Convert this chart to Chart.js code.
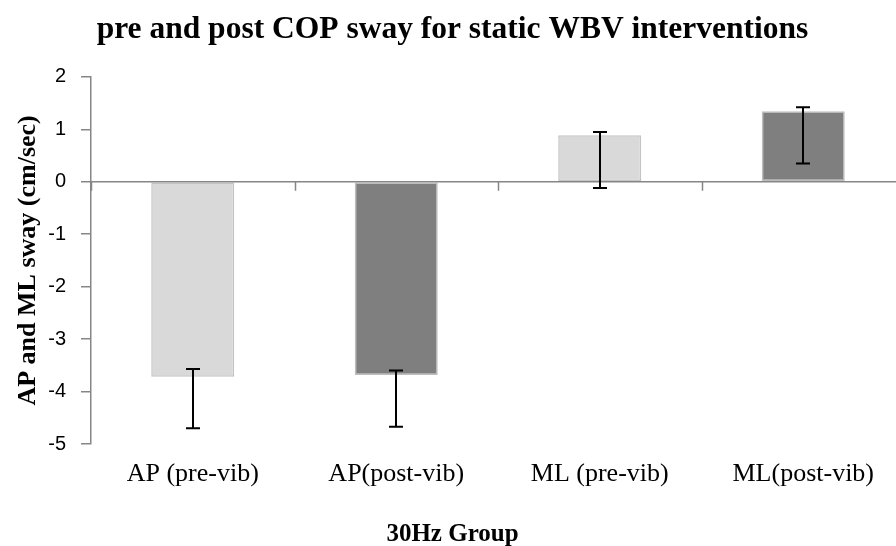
<!DOCTYPE html>
<html>
<head>
<meta charset="utf-8">
<script src="https://cdn.jsdelivr.net/npm/chart.js@4.4.1/dist/chart.umd.min.js"></script>
<style>
  html, body { margin: 0; padding: 0; background: #fff; overflow: hidden; }
  #wrap { width: 905px; height: 546px; }
</style>
</head>
<body>
<div id="wrap"><canvas id="chart" width="905" height="546"></canvas></div>
<script>
'use strict';
// ---------- data ----------
const categories = ['AP (pre-vib)', 'AP(post-vib)', 'ML (pre-vib)', 'ML(post-vib)'];
const swayMeans  = [-3.72, -3.685, 0.885, 1.343];
const errHigh    = [-3.57, -3.60, 0.95, 1.42];
const errLow     = [-4.70, -4.67, -0.12, 0.345];
const yTicks     = [2, 1, 0, -1, -2, -3, -4, -5];

const AXIS_GREY = '#868686';
const SERIF = '"Liberation Serif", "Times New Roman", serif';

// zero line with category tick marks, plus the error bars
const overlayPlugin = {
    id: 'overlay',
    afterDatasetsDraw(chart) {
        const { ctx, chartArea, scales: { x, y } } = chart;
        const y0 = y.getPixelForValue(0);
        ctx.save();
        ctx.strokeStyle = AXIS_GREY;
        ctx.lineWidth = 1.5;
        ctx.beginPath();
        ctx.moveTo(chartArea.left, y0);
        ctx.lineTo(chartArea.right, y0);
        const half = (x.getPixelForValue(1) - x.getPixelForValue(0)) / 2;
        for (let i = 0; i <= categories.length; i++) {
            const px = Math.round(x.getPixelForValue(i) - half) + 0.5;
            ctx.moveTo(px, y0);
            ctx.lineTo(px, y0 + 9);
        }
        ctx.stroke();

        const meta = chart.getDatasetMeta(0);
        ctx.strokeStyle = '#000';
        ctx.lineWidth = 2;
        meta.data.forEach((bar, i) => {
            const cx = Math.round(bar.x);
            const top = y.getPixelForValue(errHigh[i]);
            const bot = y.getPixelForValue(errLow[i]);
            ctx.beginPath();
            ctx.moveTo(cx, top); ctx.lineTo(cx, bot);
            ctx.moveTo(cx - 7, top); ctx.lineTo(cx + 7, top);
            ctx.moveTo(cx - 7, bot); ctx.lineTo(cx + 7, bot);
            ctx.stroke();
        });
        ctx.restore();
    },
};

new Chart(document.getElementById('chart'), {
    type: 'bar',
    data: {
        labels: categories,
        datasets: [{
            data: swayMeans,
            backgroundColor: ['#d9d9d9', '#7f7f7f', '#d9d9d9', '#7f7f7f'],
            borderColor:     ['#c4c4c4', '#bdbdbd', '#c4c4c4', '#bdbdbd'],
            borderWidth: 1.5,
            borderSkipped: false,
            barPercentage: 0.408,
            categoryPercentage: 1,
        }],
    },
    options: {
        responsive: false,
        animation: false,
        layout: { padding: 0 },
        plugins: {
            legend: { display: false },
            tooltip: { enabled: false },
            title: {
                display: true,
                text: 'pre and post COP sway for static WBV interventions',
                color: '#000',
                font: { family: SERIF, size: 31.5, weight: 'bold', lineHeight: 1.2 },
                padding: { top: 11, bottom: 28 },
            },
            // x-axis title, centred on the whole picture like the original
            subtitle: {
                display: true,
                position: 'bottom',
                text: '30Hz Group',
                color: '#000',
                font: { family: SERIF, size: 25, weight: 'bold', lineHeight: 0.92 },
                padding: { top: 0, bottom: 0 },
            },
        },
        scales: {
            x: {
                grid: { display: false, drawTicks: false },
                border: { display: false },
                ticks: {
                    color: '#000',
                    padding: 15,
                    maxRotation: 0,
                    font: { family: SERIF, size: 26, lineHeight: 1.2 },
                },
                afterFit(scale) { scale.height = 79; },
            },
            y: {
                min: -5,
                max: 2,
                afterBuildTicks(scale) { scale.ticks = yTicks.map(v => ({ value: v })); },
                grid: { drawOnChartArea: false, drawTicks: true, tickLength: 10, color: AXIS_GREY, lineWidth: 1.5 },
                border: { display: true, color: AXIS_GREY, width: 1.5 },
                ticks: {
                    color: '#000',
                    padding: 15,
                    font: { family: '"Liberation Sans", Arial, sans-serif', size: 20 },
                },
                title: {
                    display: true,
                    text: 'AP and ML sway (cm/sec)',
                    color: '#000',
                    font: { family: SERIF, size: 26, weight: 'bold', lineHeight: 1.2 },
                    padding: { top: 13, bottom: 0 },
                },
                afterFit(scale) { scale.width = 91; },
            },
        },
    },
    plugins: [overlayPlugin],
});
</script>
</body>
</html>
